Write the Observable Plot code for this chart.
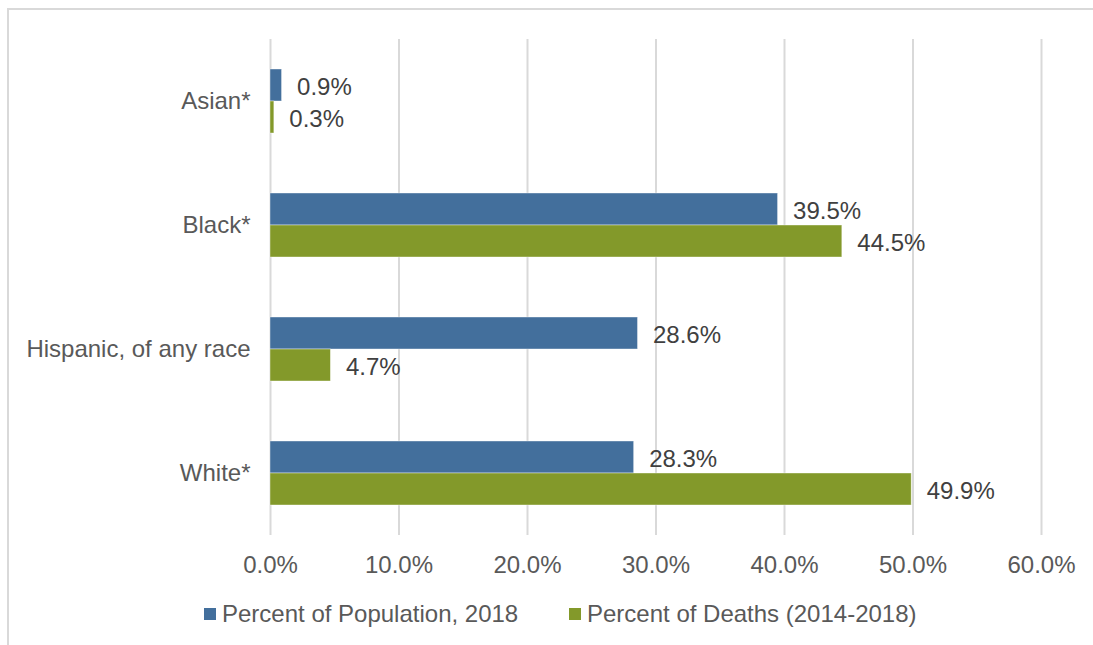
<!DOCTYPE html>
<html><head><meta charset="utf-8">
<script src="https://cdn.jsdelivr.net/npm/d3@7"></script>
<script src="https://cdn.jsdelivr.net/npm/@observablehq/plot@0.6"></script>
<style>
body{margin:0;background:#fff;font-family:"Liberation Sans",Arial,sans-serif;}
#wrap{position:relative;width:1093px;height:645px;overflow:hidden;}
#frame{position:absolute;left:7px;top:8px;width:1200px;height:800px;border-left:2px solid #d9d9d9;border-top:2px solid #d9d9d9;}
#chart{position:absolute;left:0;top:0;}
.leg{position:absolute;top:600px;font-size:24px;line-height:28px;color:#595959;display:flex;align-items:center;white-space:nowrap;}
.sw{display:inline-block;width:12px;height:12px;margin-right:6px;}
</style></head>
<body>
<div id="wrap"><div id="frame"></div><div id="chart"></div><div id="legend"></div></div>
<script>
const categories = ["Asian*", "Black*", "Hispanic, of any race", "White*"];
const seriesNames = ["Percent of Population, 2018", "Percent of Deaths (2014-2018)"];
const populationPct = [0.9, 39.5, 28.6, 28.3];
const deathsPct = [0.3, 44.5, 4.7, 49.9];
const xTicks = [0, 10, 20, 30, 40, 50, 60];
const seriesColors = ["#436f9c", "#83992a"];

const rows = categories.flatMap((c, i) => [
  {cat: c, series: seriesNames[0], value: populationPct[i]},
  {cat: c, series: seriesNames[1], value: deathsPct[i]}
]);
const fmt = d => d.toFixed(1) + "%";

const chart = Plot.plot({
  width: 1093, height: 645,
  marginLeft: 270, marginRight: 52, marginTop: 38, marginBottom: 110,
  style: {fontSize: "24px", fontFamily: "'Liberation Sans', Arial, sans-serif", color: "#595959", background: "transparent", overflow: "visible"},
  x: {domain: [0, 60]},
  fy: {domain: categories, padding: 0},
  y: {domain: seriesNames, paddingInner: 0, paddingOuter: 0.9375, axis: null},
  color: {domain: seriesNames, range: seriesColors},
  marks: [
    Plot.gridX(xTicks, {stroke: "#d9d9d9", strokeOpacity: 1, strokeWidth: 2}),
    Plot.barX(rows, {x: "value", y: "series", fy: "cat", fill: "series", stroke: "#fff", strokeWidth: 0.8, strokeOpacity: 0.5}),
    Plot.text(rows, {x: "value", y: "series", fy: "cat", text: d => fmt(d.value), textAnchor: "start", dx: 15, dy: 2, fill: "#404040", fontSize: 24}),
    Plot.axisX(xTicks, {tickFormat: fmt, tickSize: 0, tickPadding: 20, fontSize: 24, label: null, fill: "#595959", fontFamily: "'Liberation Sans Narrow', 'Arial Narrow', 'Liberation Sans', sans-serif"}),
    Plot.axisFy({anchor: "left", tickSize: 0, tickPadding: 20, fontSize: 24, label: null, fill: "#595959"})
  ]
});
document.getElementById("chart").appendChild(chart);

const legendLefts = [204, 569];
const legend = document.getElementById("legend");
seriesNames.forEach((s, i) => {
  const item = document.createElement("div");
  item.className = "leg";
  item.style.left = legendLefts[i] + "px";
  item.innerHTML = `<span class="sw" style="background:${seriesColors[i]}"></span><span>${s}</span>`;
  legend.appendChild(item);
});
</script>
</body></html>
